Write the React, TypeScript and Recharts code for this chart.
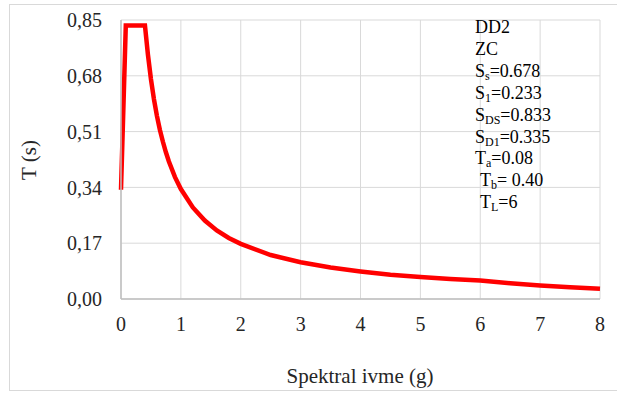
import { CartesianGrid, Line, LineChart, XAxis, YAxis } from 'recharts';

// spectrum points
const periods = [0, 0.08, 0.4, 0.45, 0.5, 0.55, 0.6, 0.65, 0.7, 0.75, 0.8, 0.9, 1.0, 1.2, 1.4, 1.6, 1.8, 2.0, 2.5, 3.0, 3.5, 4.0, 4.5, 5.0, 5.5, 6.0, 6.5, 7.0, 7.5, 8.0];
const accel = [0.333, 0.833, 0.833, 0.744, 0.67, 0.609, 0.558, 0.515, 0.479, 0.447, 0.419, 0.372, 0.335, 0.279, 0.239, 0.209, 0.186, 0.168, 0.134, 0.112, 0.096, 0.084, 0.074, 0.067, 0.061, 0.056, 0.048, 0.041, 0.036, 0.031];
const xTicks = [0, 1, 2, 3, 4, 5, 6, 7, 8];
const yTicks = [0, 0.17, 0.34, 0.51, 0.68, 0.85];

const data = periods.map((t, i) => ({ t, sa: accel[i] }));

const FONT = '"Liberation Serif", "DejaVu Serif"';
const tickStyle = { fontFamily: FONT, fontSize: 20, fill: '#262626' };

const notes: [string, string, string, number][] = [
  ['DD2', '', '', 0],
  ['ZC', '', '', 0],
  ['S', 's', '=0.678', 0],
  ['S', '1', '=0.233', 0],
  ['S', 'DS', '=0.833', 0],
  ['S', 'D1', '=0.335', 0],
  ['T', 'a', '=0.08', 0],
  ['T', 'b', '= 0.40', 5],
  ['T', 'L', '=6', 5],
];

export default function App() {
  return (
    <div style={{ position: 'absolute', left: 0, top: 0, width: 617, height: 394, background: '#fff' }}>
      <div style={{ position: 'absolute', left: 9, top: 4, width: 620, height: 385, border: '1px solid #d9d9d9' }} />
      <LineChart width={617} height={394} data={data} margin={{ top: 20, right: 17, bottom: 65, left: 0 }} style={{ position: 'absolute', left: 0, top: 0 }}>
        <CartesianGrid stroke="#d9d9d9" strokeWidth={1} />
        <XAxis
          dataKey="t"
          type="number"
          domain={[0, 8]}
          ticks={xTicks}
          height={30}
          tickLine={false}
          tickSize={0}
          tickMargin={18}
          stroke="#bfbfbf"
          strokeWidth={1.5}
          tick={tickStyle}
          interval={0}
        />
        <YAxis
          type="number"
          domain={[0, 0.85]}
          ticks={yTicks}
          width={121}
          tickLine={false}
          tickSize={0}
          tickMargin={19}
          stroke="#bfbfbf"
          strokeWidth={1.5}
          tick={tickStyle}
          interval={0}
          tickFormatter={(v: number) => v.toFixed(2).replace('.', ',')}
        />
        <Line dataKey="sa" type="linear" stroke="#ff0000" strokeWidth={4.5} dot={false} isAnimationActive={false} />
      </LineChart>
      <div style={{ position: 'absolute', left: 29, top: 160, transform: 'translate(-50%, -50%) rotate(-90deg)', fontFamily: FONT, fontSize: 21, color: '#262626', whiteSpace: 'nowrap' }}>
        T (s)
      </div>
      <div style={{ position: 'absolute', left: 360, top: 376, transform: 'translate(-50%, -50%)', fontFamily: FONT, fontSize: 21, color: '#262626', whiteSpace: 'nowrap' }}>
        Spektral ivme (g)
      </div>
      <div style={{ position: 'absolute', left: 475, top: 17, fontFamily: FONT, fontSize: 18, color: '#000', lineHeight: '21.9px' }}>
        {notes.map(([a, sub, b, indent], i) => (
          <div key={i} style={{ paddingLeft: indent, whiteSpace: 'nowrap' }}>
            {a}
            {sub && <sub style={{ fontSize: 12, verticalAlign: '-3px', lineHeight: 0 }}>{sub}</sub>}
            {b}
          </div>
        ))}
      </div>
    </div>
  );
}
